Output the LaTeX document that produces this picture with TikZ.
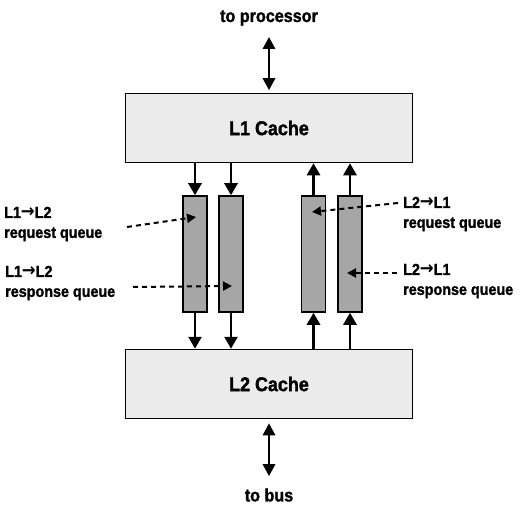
\documentclass[tikz,border=0pt]{standalone}
\usepackage{fontspec}
\setmainfont{Liberation Sans}[FakeStretch=0.9, BoldFeatures={FakeBold=1.5}]
\newfontfamily\arrowfont{DejaVu Sans}[Scale=1.15, FakeStretch=0.9]
\usetikzlibrary{arrows.meta}

\definecolor{cachefill}{RGB}{235,235,235}
\definecolor{queuefill}{RGB}{166,166,166}

\newcommand{\toarrow}{{\arrowfont\bfseries →}}

\tikzset{
    cache/.style={draw=black, line width=1.5bp, fill=cachefill,
        minimum width=287bp, minimum height=69bp,
        font=\fontsize{20}{24}\selectfont\bfseries},
    queue/.style={draw=black, line width=1.5bp, fill=queuefill,
        minimum width=24bp, minimum height=116bp},
    flow/.style={line width=2.7bp, -{Triangle[length=12bp,width=13bp]}},
    twoway/.style={line width=2.7bp,
        {Triangle[length=12bp,width=12bp]}-{Triangle[length=12bp,width=12bp]}},
    pointer/.style={line width=2bp, dash pattern=on 5bp off 4bp,
        -{Triangle[length=9bp,width=9bp]}},
    qlabel/.style={anchor=west, align=left, inner sep=0pt,
        font=\fontsize{16}{20}\selectfont\bfseries},
    port/.style={inner sep=0pt, font=\fontsize{18}{22}\selectfont\bfseries}
}

\begin{document}
\begin{tikzpicture}[x=1bp, y=-1bp]
    \useasboundingbox (0,0) rectangle (524,521);

    % Draw the caches
    \node[cache] (l1) at (269,128) {L1 Cache};
    \node[cache] (l2) at (269,384) {L2 Cache};

    % Outside connections
    \node[port] (proc) at (269,18) {to processor};
    \node[port] (bus) at (269,495) {to bus};
    \draw[twoway, shorten <=11bp, shorten >=2.5bp] (proc) -- (l1);
    \draw[twoway, shorten <=4bp, shorten >=12bp] (l2) -- (bus);

    % Draw the queues
    \node[queue] (q1) at (195,254) {};
    \node[queue] (q2) at (231,254) {};
    \node[queue] (q3) at (313.5,254) {};
    \node[queue] (q4) at (350,254) {};

    % Arrows L1 -> L2
    \draw[flow] (q1 |- l1.south) -- (q1.north);
    \draw[flow] (q2 |- l1.south) -- (q2.north);
    \draw[flow] (q1.south) -- (q1 |- l2.north);
    \draw[flow] (q2.south) -- (q2 |- l2.north);

    % Arrows L2 -> L1
    \draw[flow] (q3 |- l2.north) -- (q3.south);
    \draw[flow] (q4 |- l2.north) -- (q4.south);
    \draw[flow] (q3.north) -- (q3 |- l1.south);
    \draw[flow] (q4.north) -- (q4 |- l1.south);

    % Labels for the queues
    \node[qlabel] (lreq) at (4,224) {L1\toarrow L2\\request queue};
    \node[qlabel] (lresp) at (5,283) {L1\toarrow L2\\response queue};
    \node[qlabel] (rreq) at (403,214) {L2\toarrow L1\\request queue};
    \node[qlabel] (rresp) at (403,281) {L2\toarrow L1\\response queue};

    % Dashed pointers
    \coordinate (lreqtail) at (127,227);
    \coordinate (lreqtip) at (196,217);
    \coordinate (lresptail) at (133,287);
    \coordinate (lresptip) at (232,286);
    \coordinate (rreqtail) at (398,203);
    \coordinate (rreqtip) at (312,212);
    \coordinate (rresptail) at (397,273);
    \coordinate (rresptip) at (347,273);
    \draw[pointer] (lreqtail) -- (lreqtip);
    \draw[pointer] (lresptail) -- (lresptip);
    \draw[pointer] (rreqtail) -- (rreqtip);
    \draw[pointer] (rresptail) -- (rresptip);

\end{tikzpicture}
\end{document}
